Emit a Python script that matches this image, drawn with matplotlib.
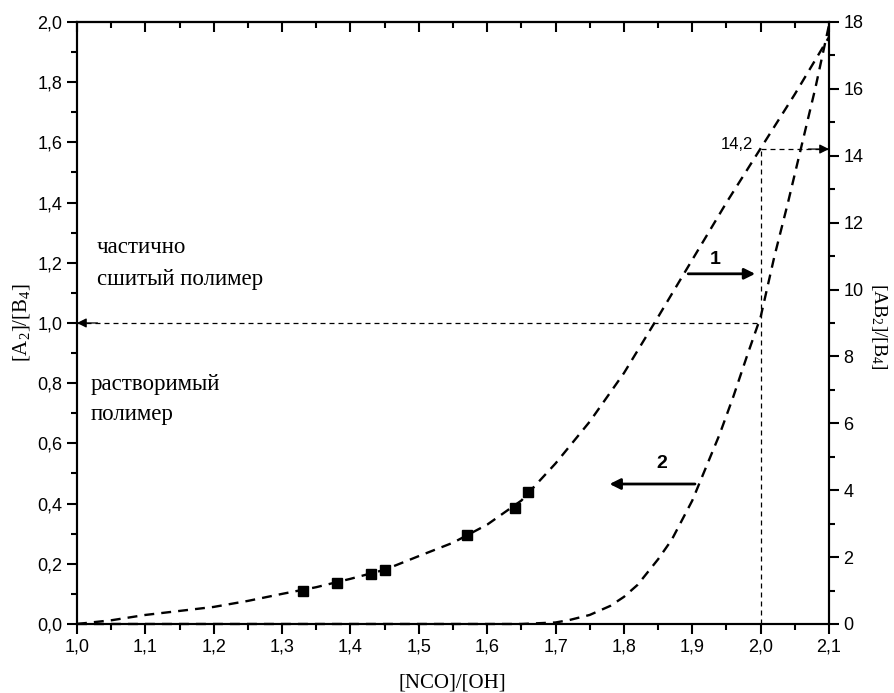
import matplotlib
matplotlib.use("Agg")
import matplotlib.pyplot as plt
from matplotlib.ticker import MultipleLocator, FuncFormatter

# curve 1, [AB2]/[B4] (right axis)
x1 = [1.0, 1.05, 1.1, 1.15, 1.2, 1.25, 1.3, 1.35, 1.4, 1.45, 1.5, 1.55, 1.6,
      1.65, 1.7, 1.75, 1.8, 1.85, 1.9, 1.95, 2.0, 2.05, 2.1]
y1 = [0, 0.11, 0.27, 0.39, 0.51, 0.69, 0.9, 1.1, 1.35, 1.62, 2.03, 2.43, 2.97,
      3.69, 4.8, 6.05, 7.5, 9.18, 10.89, 12.6, 14.22, 15.84, 17.55]

# experimental points (left axis)
xs = [1.33, 1.38, 1.43, 1.45, 1.57, 1.64, 1.66]
ys = [0.11, 0.135, 0.165, 0.18, 0.295, 0.385, 0.44]

# curve 2, [A2]/[B4] (left axis)
x2 = [1.0, 1.1, 1.2, 1.3, 1.4, 1.5, 1.6, 1.65, 1.7, 1.72, 1.75, 1.78, 1.8,
      1.82, 1.85, 1.87, 1.9, 1.92, 1.94, 1.96, 1.98, 2.0, 2.02, 2.04, 2.06,
      2.08, 2.1]
y2 = [0, 0, 0, 0, 0, 0, 0, 0, 0.005, 0.013, 0.03, 0.06, 0.09, 0.13, 0.215,
      0.28, 0.41, 0.52, 0.63, 0.755, 0.89, 1.02, 1.22, 1.40, 1.59, 1.78, 1.99]

x_crit = 2.0
left_crit = 1.0
right_crit = 14.2

plt.rcParams['font.family'] = ['Liberation Sans', 'DejaVu Sans']
plt.rcParams['mathtext.fontset'] = 'custom'
plt.rcParams['mathtext.rm'] = 'Liberation Serif'
plt.rcParams['mathtext.it'] = 'Liberation Serif:italic'
comma = FuncFormatter(lambda v, p: f"{v:.1f}".replace('.', ','))

fig = plt.figure(figsize=(8.94, 6.93), dpi=100)
ax = fig.add_axes([0.0861, 0.0996, 0.8412, 0.8687])
ax2 = ax.twinx()

curve_ls = (0, (4.2, 3))
ref_ls = (0, (4, 3.2))

ax.plot(x2, y2, color='k', lw=1.7, ls=curve_ls, clip_on=False)
ax.plot(xs, ys, 's', color='k', ms=6.5)
ax2.plot(x1, y1, color='k', lw=1.7, ls=curve_ls, clip_on=False)

# reference lines
ax.plot([1.0, x_crit], [left_crit, left_crit], color='k', lw=0.9, ls=ref_ls)
ax.annotate('', xy=(1.0, left_crit), xytext=(1.03, left_crit),
            arrowprops=dict(arrowstyle='-|>', color='k', lw=0.9,
                            mutation_scale=14, shrinkA=0, shrinkB=0))
ax2.plot([x_crit, x_crit], [0, right_crit], color='k', lw=0.9, ls=ref_ls)
ax2.plot([x_crit, 2.1], [right_crit, right_crit], color='k', lw=0.9, ls=ref_ls)
ax2.annotate('', xy=(2.1, right_crit), xytext=(2.07, right_crit),
             arrowprops=dict(arrowstyle='-|>', color='k', lw=0.9,
                             mutation_scale=14, shrinkA=0, shrinkB=0))
ax2.text(1.989, right_crit + 0.15, '14,2', ha='right', va='center', fontsize=12)

# curve markers
ax2.annotate('', xy=(1.992, 10.47), xytext=(1.894, 10.47),
             arrowprops=dict(arrowstyle='-|>', color='k', lw=2,
                             mutation_scale=16, shrinkA=0, shrinkB=0))
ax2.text(1.933, 10.9, '1', ha='center', va='center', fontsize=14, fontweight='bold')
ax.annotate('', xy=(1.779, 0.465), xytext=(1.904, 0.465),
            arrowprops=dict(arrowstyle='-|>', color='k', lw=2,
                            mutation_scale=16, shrinkA=0, shrinkB=0))
ax.text(1.855, 0.534, '2', ha='center', va='center', fontsize=14, fontweight='bold')

serif = ['Liberation Serif', 'DejaVu Serif']
ax.text(1.029, 1.233, 'частично', family=serif, fontsize=16.5, va='baseline')
ax.text(1.029, 1.126, 'сшитый полимер', family=serif, fontsize=16.5, va='baseline')
ax.text(1.020, 0.777, 'растворимый', family=serif, fontsize=16.5, va='baseline')
ax.text(1.020, 0.678, 'полимер', family=serif, fontsize=16.5, va='baseline')

ax.set_xlim(1.0, 2.1)
ax.set_ylim(0, 2.0)
ax2.set_ylim(0, 18)

ax.xaxis.set_major_locator(MultipleLocator(0.1))
ax.xaxis.set_minor_locator(MultipleLocator(0.05))
ax.xaxis.set_major_formatter(comma)
ax.yaxis.set_major_locator(MultipleLocator(0.2))
ax.yaxis.set_minor_locator(MultipleLocator(0.1))
ax.yaxis.set_major_formatter(comma)
ax2.yaxis.set_major_locator(MultipleLocator(2))
ax2.yaxis.set_minor_locator(MultipleLocator(1))

for a in (ax, ax2):
    for s in a.spines.values():
        s.set_linewidth(1.5)
    a.tick_params(which='major', direction='out', length=7, width=1.5, labelsize=13)
    a.tick_params(which='minor', direction='out', length=4, width=1.5)

top = ax.secondary_xaxis('top')
top.xaxis.set_major_locator(MultipleLocator(0.1))
top.xaxis.set_minor_locator(MultipleLocator(0.05))
top.tick_params(which='major', direction='in', length=7, width=1.5, labeltop=False)
top.tick_params(which='minor', direction='in', length=4, width=1.5)
top.spines['top'].set_linewidth(1.5)

ax.set_xlabel('[NCO]/[OH]', family=serif, fontsize=15)
ax.xaxis.set_label_coords(0.499, -0.082)
ax.set_ylabel('[A$_2$]/[B$_4$]', family=serif, fontsize=15)
ax.yaxis.set_label_coords(-0.06, 0.5)
ax2.set_ylabel('[AB$_2$]/[B$_4$]', family=serif, fontsize=14, rotation=270, va='center')
ax2.yaxis.set_label_coords(1.066, 0.495)

fig.savefig('out.png', dpi=100)
